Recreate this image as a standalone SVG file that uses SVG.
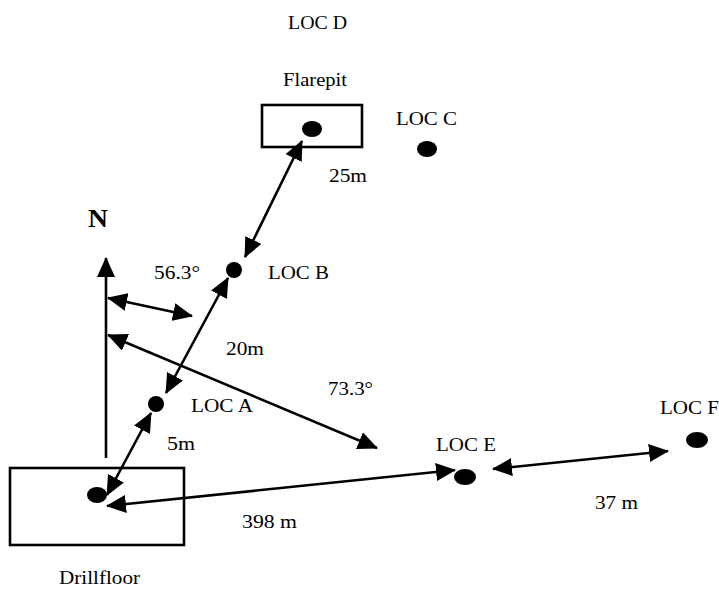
<svg xmlns="http://www.w3.org/2000/svg" width="719" height="589" viewBox="0 0 719 589">
<style>
text{font-family:"Liberation Serif","Times New Roman",serif;font-size:18px;fill:#000}
.ln{stroke:#000;stroke-width:2.6;fill:none}
.box{stroke:#000;stroke-width:2.6;fill:none}
.dot{fill:#000}
</style>
<defs>
<marker id="ah" viewBox="0 0 20 18" refX="19" refY="9" markerWidth="20" markerHeight="18" markerUnits="userSpaceOnUse" orient="auto-start-reverse">
<path d="M0,0 L20,9 L0,18 Z" fill="#000"/>
</marker>
</defs>
<rect width="719" height="589" fill="#fff"/>
<g id="locD"><text x="288" y="29" textLength="59" lengthAdjust="spacingAndGlyphs">LOC D</text></g>
<g id="flarepit">
<text x="283" y="86" textLength="64" lengthAdjust="spacingAndGlyphs">Flarepit</text>
<rect class="box" x="262" y="105" width="100" height="42"/>
<ellipse class="dot" cx="312" cy="129" rx="10" ry="8"/>
</g>
<g id="locC">
<text x="396" y="125" textLength="61" lengthAdjust="spacingAndGlyphs">LOC C</text>
<ellipse class="dot" cx="427" cy="149" rx="10" ry="8"/>
</g>
<g id="locB">
<circle class="dot" cx="234" cy="270" r="8"/>
<text x="268" y="279" textLength="61" lengthAdjust="spacingAndGlyphs">LOC B</text>
</g>
<g id="locA">
<circle class="dot" cx="156" cy="404" r="8"/>
<text x="191" y="412" textLength="62" lengthAdjust="spacingAndGlyphs">LOC A</text>
</g>
<g id="drillfloor">
<rect class="box" x="10" y="468" width="174" height="77"/>
<ellipse class="dot" cx="97" cy="495" rx="10" ry="8"/>
<text x="59" y="584" textLength="81" lengthAdjust="spacingAndGlyphs">Drillfloor</text>
</g>
<g id="locE">
<text x="436" y="451" textLength="60" lengthAdjust="spacingAndGlyphs">LOC E</text>
<ellipse class="dot" cx="465" cy="477" rx="11" ry="8"/>
</g>
<g id="locF">
<text x="660" y="414" textLength="59" lengthAdjust="spacingAndGlyphs">LOC F</text>
<ellipse class="dot" cx="697" cy="440" rx="11" ry="8"/>
</g>
<g id="north">
<text x="88" y="227" style="font-size:26px;font-weight:bold" textLength="20" lengthAdjust="spacingAndGlyphs">N</text>
</g>
<g id="connectors">
<line class="ln" x1="106" y1="458" x2="106" y2="258" marker-end="url(#ah)"/>
<line class="ln" x1="302" y1="141" x2="245" y2="257" marker-start="url(#ah)" marker-end="url(#ah)"/>
<line class="ln" x1="228" y1="278" x2="166" y2="393" marker-start="url(#ah)" marker-end="url(#ah)"/>
<line class="ln" x1="108" y1="298" x2="192" y2="316" marker-start="url(#ah)" marker-end="url(#ah)"/>
<line class="ln" x1="108" y1="335" x2="377" y2="448" marker-start="url(#ah)" marker-end="url(#ah)"/>
<line class="ln" x1="151" y1="413" x2="107" y2="495" marker-start="url(#ah)" marker-end="url(#ah)"/>
<line class="ln" x1="107" y1="506" x2="455" y2="470" marker-start="url(#ah)" marker-end="url(#ah)"/>
<line class="ln" x1="493" y1="469" x2="668" y2="451" marker-start="url(#ah)" marker-end="url(#ah)"/>
</g>
<g id="labels">
<text x="329" y="182" textLength="38" lengthAdjust="spacingAndGlyphs">25m</text>
<text x="154" y="279" textLength="46" lengthAdjust="spacingAndGlyphs">56.3°</text>
<text x="226" y="355" textLength="38" lengthAdjust="spacingAndGlyphs">20m</text>
<text x="328" y="395" textLength="45" lengthAdjust="spacingAndGlyphs">73.3°</text>
<text x="167" y="450" textLength="28" lengthAdjust="spacingAndGlyphs">5m</text>
<text x="242" y="528" textLength="55" lengthAdjust="spacingAndGlyphs">398 m</text>
<text x="595" y="509" textLength="43" lengthAdjust="spacingAndGlyphs">37 m</text>
</g>
</svg>
